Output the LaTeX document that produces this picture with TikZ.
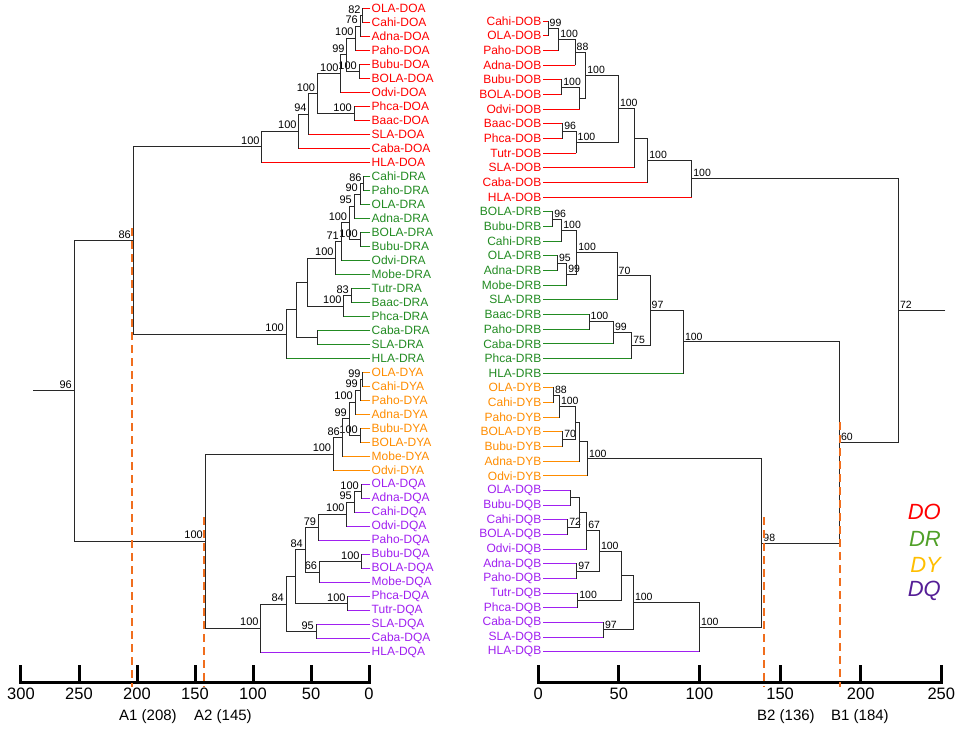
\documentclass[tikz,border=0pt]{standalone}
\usepackage{fontspec}
\setmainfont{Liberation Sans}
\usetikzlibrary{calc}

\definecolor{cDO}{RGB}{255,0,0}
\definecolor{cDR}{RGB}{34,139,34}
\definecolor{cDY}{RGB}{255,140,0}
\definecolor{cDQ}{RGB}{160,32,240}
\definecolor{treec}{RGB}{40,40,40}
\definecolor{cutc}{RGB}{240,110,30}
\definecolor{legDR}{RGB}{80,160,40}
\definecolor{legDY}{RGB}{255,190,0}
\definecolor{legDQ}{RGB}{85,30,150}

\tikzset{
  branch/.style={treec,line width=0.9pt,line cap=rect},
  lleaf/.style={anchor=west,inner sep=1.5pt,font=\fontsize{12}{13}\selectfont},
  rleaf/.style={anchor=east,inner sep=1.5pt,font=\fontsize{12}{13}\selectfont},
  lval/.style={anchor=south east,inner sep=2pt,font=\fontsize{11}{12}\selectfont},
  rval/.style={anchor=south west,inner sep=1.5pt,font=\fontsize{10.5}{12}\selectfont},
  axisline/.style={black,line width=3pt,line cap=rect},
  ticklab/.style={anchor=north,inner sep=1pt,font=\fontsize{16.5}{18}\selectfont},
  cutline/.style={cutc,line width=2pt,dash pattern=on 8pt off 5pt},
  cutlab/.style={anchor=west,inner sep=0pt,font=\fontsize{15}{17}\selectfont},
  legend/.style={anchor=east,inner sep=0pt,font=\fontsize{22}{24}\selectfont\itshape}
}

% name, x, child 1, child 2, colour 1, colour 2, value
\newcommand\lnode[7]{%
  \coordinate (x#1) at (#2,0);
  \path ($(#3)!.5!(#4)$) coordinate (m#1);
  \coordinate (#1) at (m#1 -| x#1);
  \draw[branch,#5] (#1 |- #3) -- (#3);
  \draw[branch,#6] (#1 |- #4) -- (#4);
  \draw[branch] (#1 |- #3) -- (#1 |- #4);
  \node[lval] (v#1) at (#1) {#7};
}
\newcommand\rnode[7]{%
  \coordinate (x#1) at (#2,0);
  \path ($(#3)!.5!(#4)$) coordinate (m#1);
  \coordinate (#1) at (m#1 -| x#1);
  \draw[branch,#5] (#1 |- #3) -- (#3);
  \draw[branch,#6] (#1 |- #4) -- (#4);
  \draw[branch] (#1 |- #3) -- (#1 |- #4);
  \node[rval] (v#1) at (#1) {#7};
}

\begin{document}
\begin{tikzpicture}[x=1pt,y=-1pt]
	\useasboundingbox (0,0) rectangle (957,729);

	% left leaves
	\foreach \lab [count=\i from 0] in {OLA,Cahi,Adna,Paho,Bubu,BOLA,Odvi,Phca,Baac,SLA,Caba,HLA}
		\node[lleaf,text=cDO] (L\i) at (370,8.5+14*\i) {\lab-DOA};
	\foreach \lab [count=\i from 12] in {Cahi,Paho,OLA,Adna,BOLA,Bubu,Odvi,Mobe,Tutr,Baac,Phca,Caba,SLA,HLA}
		\node[lleaf,text=cDR] (L\i) at (370,8.5+14*\i) {\lab-DRA};
	\foreach \lab [count=\i from 26] in {OLA,Cahi,Paho,Adna,Bubu,BOLA,Mobe,Odvi}
		\node[lleaf,text=cDY] (L\i) at (370,8.5+14*\i) {\lab-DYA};
	\foreach \lab [count=\i from 34] in {OLA,Adna,Cahi,Odvi,Paho,Bubu,BOLA,Mobe,Phca,Tutr,SLA,Caba,HLA}
		\node[lleaf,text=cDQ] (L\i) at (370,8.5+14*\i) {\lab-DQA};

	% DOA
	\lnode{o1}{362.7}{L0.west}{L1.west}{cDO}{cDO}{82}
	\lnode{o2}{360}{o1}{L2.west}{treec}{cDO}{76}
	\lnode{o3}{355.7}{o2}{L3.west}{treec}{cDO}{100}
	\lnode{o4}{359}{L4.west}{L5.west}{cDO}{cDO}{100}
	\lnode{o5}{346.7}{o3}{o4}{treec}{treec}{99}
	\lnode{o6}{340.7}{o5}{L6.west}{treec}{cDO}{100}
	\lnode{o7}{354}{L7.west}{L8.west}{cDO}{cDO}{100}
	\lnode{o8}{317.3}{o6}{o7}{treec}{treec}{100}
	\lnode{o9}{308.7}{o8}{L9.west}{treec}{cDO}{94}
	\lnode{o10}{298.7}{o9}{L10.west}{treec}{cDO}{100}
	\lnode{o11}{261.7}{o10}{L11.west}{treec}{cDO}{100}
	% DRA
	\lnode{r1}{363.7}{L12.west}{L13.west}{cDR}{cDR}{86}
	\lnode{r2}{360}{r1}{L14.west}{treec}{cDR}{90}
	\lnode{r3}{354}{r2}{L15.west}{treec}{cDR}{95}
	\lnode{r4}{360}{L16.west}{L17.west}{cDR}{cDR}{100}
	\lnode{r5}{349.3}{r3}{r4}{treec}{treec}{100}
	\lnode{r6}{341}{r5}{L18.west}{treec}{cDR}{71}
	\lnode{r7}{335.7}{r6}{L19.west}{treec}{cDR}{100}
	\lnode{r8}{351}{L20.west}{L21.west}{cDR}{cDR}{83}
	\lnode{r9}{343.7}{r8}{L22.west}{treec}{cDR}{100}
	\lnode{r10}{307.7}{r7}{r9}{treec}{treec}{}
	\lnode{r11}{317.3}{L23.west}{L24.west}{cDR}{cDR}{}
	\lnode{r12}{296}{r10}{r11}{treec}{treec}{}
	\lnode{r13}{286}{r12}{L25.west}{treec}{cDR}{100}
	% DYA
	\lnode{y1}{362.7}{L26.west}{L27.west}{cDY}{cDY}{99}
	\lnode{y2}{360}{y1}{L28.west}{treec}{cDY}{99}
	\lnode{y3}{355}{y2}{L29.west}{treec}{cDY}{100}
	\lnode{y4}{360}{L30.west}{L31.west}{cDY}{cDY}{100}
	\lnode{y5}{349}{y3}{y4}{treec}{treec}{99}
	\lnode{y6}{342}{y5}{L32.west}{treec}{cDY}{86}
	\lnode{y7}{333.3}{y6}{L33.west}{treec}{cDY}{100}
	% DQA
	\lnode{q1}{361}{L34.west}{L35.west}{cDQ}{cDQ}{100}
	\lnode{q2}{354}{q1}{L36.west}{treec}{cDQ}{95}
	\lnode{q3}{346.7}{q2}{L37.west}{treec}{cDQ}{100}
	\lnode{q4}{318.3}{q3}{L38.west}{treec}{cDQ}{79}
	\lnode{q5}{361.7}{L39.west}{L40.west}{cDQ}{cDQ}{100}
	\lnode{q6}{319.3}{q5}{L41.west}{treec}{cDQ}{66}
	\lnode{q7}{305}{q4}{q6}{treec}{treec}{84}
	\lnode{q8}{347.7}{L42.west}{L43.west}{cDQ}{cDQ}{100}
	\lnode{q9}{295}{q7}{q8}{treec}{treec}{}
	\lnode{q10}{316}{L44.west}{L45.west}{cDQ}{cDQ}{95}
	\lnode{q11}{286}{q9}{q10}{treec}{treec}{84}
	\lnode{q12}{260.7}{q11}{L46.west}{treec}{cDQ}{100}
	% left top
	\lnode{lA}{133}{o11}{r13}{treec}{treec}{86}
	\lnode{lB}{205}{y7}{q12}{treec}{treec}{100}
	\lnode{lroot}{74}{lA}{lB}{treec}{treec}{96}
	\coordinate (lstub) at (33,0);
	\draw[branch] (lroot) -- (lroot -| lstub);

	% right leaves
	\foreach \lab [count=\i from 0] in {Cahi,OLA,Paho,Adna,Bubu,BOLA,Odvi,Baac,Phca,Tutr,SLA,Caba,HLA}
		\node[rleaf,text=cDO] (R\i) at (543,21+14.67*\i) {\lab-DOB};
	\foreach \lab [count=\i from 13] in {BOLA,Bubu,Cahi,OLA,Adna,Mobe,SLA,Baac,Paho,Caba,Phca,HLA}
		\node[rleaf,text=cDR] (R\i) at (543,21+14.67*\i) {\lab-DRB};
	\foreach \lab [count=\i from 25] in {OLA,Cahi,Paho,BOLA,Bubu,Adna,Odvi}
		\node[rleaf,text=cDY] (R\i) at (543,21+14.67*\i) {\lab-DYB};
	\foreach \lab [count=\i from 32] in {OLA,Bubu,Cahi,BOLA,Odvi,Adna,Paho,Tutr,Phca,Caba,SLA,HLA}
		\node[rleaf,text=cDQ] (R\i) at (543,21+14.67*\i) {\lab-DQB};

	% DOB
	\rnode{b1}{548}{R0.east}{R1.east}{cDO}{cDO}{99}
	\rnode{b2}{558.7}{b1}{R2.east}{treec}{cDO}{100}
	\rnode{b3}{575}{b2}{R3.east}{treec}{cDO}{88}
	\rnode{b4}{561.7}{R4.east}{R5.east}{cDO}{cDO}{100}
	\rnode{b5}{579.3}{b4}{R6.east}{treec}{cDO}{}
	\rnode{b6}{585.7}{b3}{b5}{treec}{treec}{100}
	\rnode{b7}{562.7}{R7.east}{R8.east}{cDO}{cDO}{96}
	\rnode{b8}{576}{b7}{R9.east}{treec}{cDO}{100}
	\rnode{b9}{618.3}{b6}{b8}{treec}{treec}{100}
	\rnode{b10}{634}{b9}{R10.east}{treec}{cDO}{}
	\rnode{b11}{647.7}{b10}{R11.east}{treec}{cDO}{100}
	\rnode{b12}{691.7}{b11}{R12.east}{treec}{cDO}{100}
	% DRB
	\rnode{d1}{552.7}{R13.east}{R14.east}{cDR}{cDR}{96}
	\rnode{d2}{561.7}{d1}{R15.east}{treec}{cDR}{100}
	\rnode{d3}{557.3}{R16.east}{R17.east}{cDR}{cDR}{95}
	\rnode{d4}{566.7}{d3}{R18.east}{treec}{cDR}{99}
	\rnode{d5}{576.7}{d2}{d4}{treec}{treec}{100}
	\rnode{d6}{617}{d5}{R19.east}{treec}{cDR}{70}
	\rnode{d7}{589}{R20.east}{R21.east}{cDR}{cDR}{100}
	\rnode{d8}{613.3}{d7}{R22.east}{treec}{cDR}{99}
	\rnode{d9}{631.7}{d8}{R23.east}{treec}{cDR}{75}
	\rnode{d10}{650}{d6}{d9}{treec}{treec}{97}
	\rnode{d11}{683.3}{d10}{R24.east}{treec}{cDR}{100}
	% DYB
	\rnode{e1}{553.3}{R25.east}{R26.east}{cDY}{cDY}{88}
	\rnode{e2}{559.3}{e1}{R27.east}{treec}{cDY}{100}
	\rnode{e3}{562.7}{R28.east}{R29.east}{cDY}{cDY}{70}
	\rnode{e4}{575}{e2}{e3}{treec}{treec}{}
	\rnode{e5}{579.3}{e4}{R30.east}{treec}{cDY}{}
	\rnode{e6}{587.3}{e5}{R31.east}{treec}{cDY}{100}
	% DQB
	\rnode{f1}{570.7}{R32.east}{R33.east}{cDQ}{cDQ}{}
	\rnode{f2}{567.7}{R34.east}{R35.east}{cDQ}{cDQ}{72}
	\rnode{f3}{579.3}{f1}{f2}{treec}{treec}{}
	\rnode{f4}{586.7}{f3}{R36.east}{treec}{cDQ}{67}
	\rnode{f5}{576.7}{R37.east}{R38.east}{cDQ}{cDQ}{97}
	\rnode{f6}{599.3}{f4}{f5}{treec}{treec}{100}
	\rnode{f7}{577.7}{R39.east}{R40.east}{cDQ}{cDQ}{100}
	\rnode{f8}{621}{f6}{f7}{treec}{treec}{}
	\rnode{f9}{603.3}{R41.east}{R42.east}{cDQ}{cDQ}{97}
	\rnode{f10}{633.3}{f8}{f9}{treec}{treec}{100}
	\rnode{f11}{699.3}{f10}{R43.east}{treec}{cDQ}{100}
	% right top
	\rnode{g98}{761.7}{e6}{f11}{treec}{treec}{98}
	\rnode{g60}{839.3}{d11}{g98}{treec}{treec}{60}
	\rnode{groot}{898.3}{b12}{g60}{treec}{treec}{72}
	\coordinate (rstub) at (945,0);
	\draw[branch] (groot) -- (groot -| rstub);

	% scales
	\coordinate (laxL) at (21,682);
	\coordinate (laxR) at (369,682);
	\draw[axisline] (laxL) -- (laxR);
	\foreach \v in {0,50,...,300} {
		\draw[axisline] (369-1.16*\v,682) -- ++(0,-16);
		\node[ticklab] (lt\v) at (369-1.16*\v,687) {\v};
	}
	\coordinate (raxL) at (538.3,682);
	\coordinate (raxR) at (941,682);
	\draw[axisline] (raxL) -- (raxR);
	\foreach \v in {0,50,...,250} {
		\draw[axisline] (538.3+1.612*\v,682) -- ++(0,-16);
		\node[ticklab] (rt\v) at (538.3+1.612*\v,687) {\v};
	}

	% cut levels
	\coordinate (A1t) at (132,228);   \coordinate (A1b) at (132,687);
	\coordinate (A2t) at (204,517);   \coordinate (A2b) at (204,687);
	\coordinate (B2t) at (764,517);   \coordinate (B2b) at (764,687);
	\coordinate (B1t) at (840,422);   \coordinate (B1b) at (840,687);
	\draw[cutline] (A1t) -- (A1b);
	\draw[cutline] (A2t) -- (A2b);
	\draw[cutline] (B2t) -- (B2b);
	\draw[cutline] (B1t) -- (B1b);
	\node[cutlab] (A1l) at (119,717) {A1 (208)};
	\node[cutlab] (A2l) at (194,717) {A2 (145)};
	\node[cutlab] (B2l) at (757,717) {B2 (136)};
	\node[cutlab] (B1l) at (831,717) {B1 (184)};

	% legend
	\node[legend,text=cDO] (kDO) at (941,511.7) {DO};
	\node[legend,text=legDR] (kDR) at (941,539) {DR};
	\node[legend,text=legDY] (kDY) at (941,565) {DY};
	\node[legend,text=legDQ] (kDQ) at (941,591) {DQ};
\end{tikzpicture}
\end{document}
